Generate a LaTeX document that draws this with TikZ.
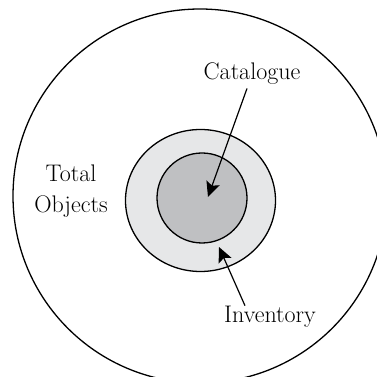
\documentclass[tikz,border=0pt]{standalone}
\usetikzlibrary{arrows.meta,shapes.geometric}
\definecolor{ringgray}{RGB}{230,231,232}
\definecolor{coregray}{RGB}{191,192,194}
\begin{document}
\begin{tikzpicture}[x=1pt, y=1pt, line width=1.3pt, every node/.style={font=\fontsize{24}{31}\selectfont}, area/.style={draw, inner sep=0pt, outer sep=0pt}, caption/.style={align=center, inner sep=1pt}, pointer/.style={-{Stealth[length=15pt, width=14pt, inset=3pt]}, line width=1.2pt}]

		\useasboundingbox (0, 0) rectangle (377, 377);
		\clip (0, 0) rectangle (377, 377);

		\node[area, circle, minimum size=374pt] (total) at (200, 181) {};
		\node[area, ellipse, fill=ringgray, minimum width=150pt, minimum height=142pt] (inventory) at (200.5, 176.5) {};
		\node[area, circle, fill=coregray, minimum size=90pt] (catalogue) at (202, 179) {};

		\node[caption] (cat) at (252, 303) {Catalogue};
		\node[caption] (tot) at (71, 186) {Total\\Objects};
		\node[caption] (inv) at (270, 60) {Inventory};

		\coordinate (cattip) at (208, 180);
		\coordinate (invtip) at (219, 130);

		\draw[pointer] (cat.south) ++(-5, -2) -- (cattip);

		\draw[pointer] (inv.north) ++(-25, -1) -- (invtip);

	\end{tikzpicture}
\end{document}
